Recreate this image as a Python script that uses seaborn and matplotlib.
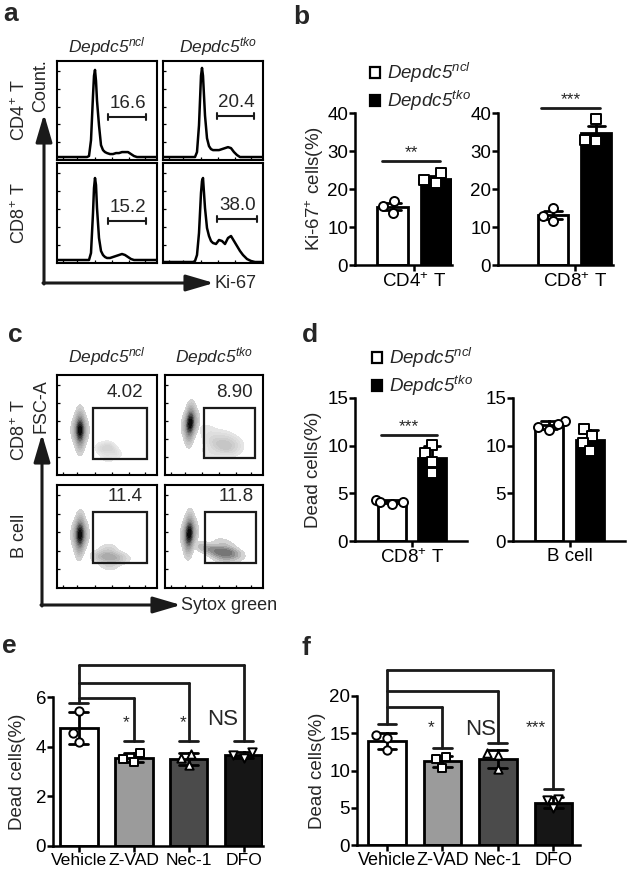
import numpy as np
import pandas as pd
import matplotlib
matplotlib.use("Agg")
import matplotlib.pyplot as plt
import seaborn as sns
from matplotlib.patches import Patch, Rectangle

sns.set_theme(style="ticks")
plt.rcParams['font.family'] = ['Liberation Sans', 'DejaVu Sans']
plt.rcParams['mathtext.fontset'] = 'custom'
plt.rcParams['mathtext.rm'] = 'Liberation Sans'
plt.rcParams['mathtext.it'] = 'Liberation Sans:italic'
plt.rcParams['mathtext.bf'] = 'Liberation Sans:bold'
plt.rcParams['axes.linewidth'] = 1.5
plt.rcParams['axes.edgecolor'] = 'black'
plt.rcParams['xtick.color'] = 'black'
plt.rcParams['ytick.color'] = 'black'

W, H = 633, 874
FS = 13.5
NCL = r'Depdc5$^{\mathit{ncl}}$'
TKO = r'Depdc5$^{\mathit{tko}}$'

# ---- a: Ki-67 histograms (x in % of the plot width, y in % of plot height)
hist_x = [0, 30, 32, 34, 36, 37, 38, 39, 40, 42, 44, 46, 48, 50, 53, 56, 59, 62, 65, 68, 71, 74, 77, 80, 84, 88, 92, 100]
hist_cd4_ncl = [3, 3, 4, 20, 65, 85, 91, 80, 60, 35, 15, 10, 8, 7, 6, 6, 7, 7, 8, 8, 8, 6, 4, 3, 3, 3, 3, 3]
hist_cd4_tko = [3, 3, 3, 8, 35, 60, 85, 93, 85, 45, 22, 14, 11, 10, 10, 10, 11, 12, 13, 12, 8, 5, 3, 3, 3, 3, 3, 3]
hist_cd8_ncl = [3, 3, 3, 10, 50, 75, 85, 78, 55, 25, 12, 8, 6, 5, 5, 6, 7, 8, 9, 8, 6, 4, 3, 3, 3, 3, 3, 3]
hist_cd8_tko = [1, 1, 2, 8, 30, 50, 70, 82, 85, 55, 35, 27, 22, 20, 19, 23, 22, 19, 25, 27, 22, 17, 12, 8, 4, 2, 1, 1]
hist_gate_labels = ['16.6', '20.4', '15.2', '38.0']
hist_gate_x0 = [51, 54, 51, 54]
hist_gate_x1 = [89, 91, 89, 94]
hist_gate_y = [43, 44, 42, 44]

# ---- c: Sytox green density plots, event clusters (x, y, weight) in % of plot
live_cd8_ncl = {'x': [23, 18, 28, 23, 23, 23, 23], 'y': [45, 45, 45, 38, 52, 30, 60],
                'w': [3, 1, 1, 1.5, 1.5, 0.6, 0.5]}
live_cd8_tko = {'x': [26, 21, 31, 25, 26, 25, 26], 'y': [52, 51, 53, 45, 59, 37, 66],
                'w': [3, 1, 1, 1.5, 1.5, 0.6, 0.4]}
live_b_ncl = {'x': [23, 18, 28, 23, 23, 22, 23], 'y': [52, 52, 52, 45, 59, 37, 67],
              'w': [3, 1, 1, 1.5, 1.5, 0.6, 0.4]}
live_b_tko = {'x': [25, 20, 30, 24, 25, 24, 25], 'y': [53, 53, 53, 46, 60, 38, 68],
              'w': [3, 1, 1, 1.5, 1.5, 0.7, 0.4]}
dead_cd8_ncl = {'x': [45, 52, 58, 50], 'y': [26, 28, 22, 18], 'w': [0.8, 1.0, 0.6, 0.5]}
dead_cd8_tko = {'x': [43, 50, 57, 64, 69, 47, 60], 'y': [45, 34, 29, 27, 32, 22, 38],
                'w': [0.4, 0.8, 0.8, 1.0, 0.8, 0.5, 0.5]}
dead_b_ncl = {'x': [42, 50, 58, 66, 52, 52], 'y': [30, 31, 29, 29, 22, 38],
              'w': [0.8, 1.2, 1.0, 0.5, 0.6, 0.6]}
dead_b_tko = {'x': [38, 46, 54, 62, 70, 58, 60, 66], 'y': [40, 38, 34, 36, 34, 28, 44, 30],
              'w': [0.6, 0.8, 1.0, 1.3, 0.8, 0.6, 0.6, 0.6]}
dead_shades = [('#ececec', '#d2d2d2'), ('#e8e8e8', '#c2c2c2'), ('#e2e2e2', '#a4a4a4'), ('#dedede', '#6a6a6a')]
dens_gate_labels = ['4.02', '8.90', '11.4', '11.8']
dens_gate_x = [(36, 90), (40, 92), (36, 90), (41, 93)]
dens_gate_y = [(16, 67), (17, 67), (24, 74), (24, 74)]

# ---- b, d: bar charts
genotypes = ['ncl', 'tko']
ki67_cd4 = [[16.8, 15.5, 13.7], [24.2, 22.3, 21.6]]
ki67_cd8 = [[15.0, 12.8, 11.6], [38.3, 33.0, 32.7]]
dead_cd8 = [[4.3, 4.1, 3.9, 4.1], [10.1, 9.2, 8.3, 7.1]]
dead_bcell = [[12.6, 12.3, 12.0, 11.6], [11.8, 11.0, 10.3, 9.4]]

# ---- e, f: treatments
treatments = ['Vehicle', 'Z-VAD', 'Nec-1', 'DFO']
dead_e = [[5.45, 4.55, 4.2], [3.75, 3.5, 3.4], [3.7, 3.55, 3.25], [3.8, 3.65, 3.55]]
dead_f = [[14.7, 14.4, 12.8], [11.8, 11.5, 10.4], [12.4, 12.1, 10.2], [6.2, 6.0, 4.9]]
e_stem, e_levels, e_drops = 5.75, [5.97, 6.55, 7.27], [4.23, 4.23, 4.23]
f_stem, f_levels, f_drops = 16.25, [18.5, 20.7, 23.5], [13.0, 13.75, 7.5]
e_marks = [('*', 0.86, 4.95), ('*', 1.9, 4.95), ('NS', 2.62, 5.1)]
f_marks = [('*', 0.8, 15.7), ('NS', 1.68, 15.5), ('***', 2.69, 15.7)]

fig = plt.figure(figsize=(W / 100, H / 100), dpi=100)
fig.patch.set_facecolor('white')

ov = fig.add_axes([0, 0, 1, 1])
ov.set_xlim(0, W)
ov.set_ylim(H, 0)
ov.axis('off')


def add_box(x0, y0, x1, y1):
    return fig.add_axes([x0 / W, 1 - y1 / H, (x1 - x0) / W, (y1 - y0) / H])


def flow_frame(ax):
    ax.set_xlim(0, 100)
    ax.set_ylim(0, 100)
    for s in ax.spines.values():
        s.set_visible(True)
        s.set_linewidth(1.5)
    ax.set_xticks([6, 20, 38, 55, 72, 88])
    ax.set_yticks([18, 36, 54, 72, 90])
    ax.set_xticklabels([])
    ax.set_yticklabels([])
    ax.tick_params(direction='in', length=2.5, width=0.9)
    ax.set_xlabel('')
    ax.set_ylabel('')


# ---------------- panel a
hist_sets = [hist_cd4_ncl, hist_cd4_tko, hist_cd8_ncl, hist_cd8_tko]
hist_boxes = [(57, 61, 157, 160), (163, 61, 263, 160), (57, 163, 157, 263), (163, 163, 263, 263)]
for i, (vals, bx) in enumerate(zip(hist_sets, hist_boxes)):
    ax = add_box(*bx)
    sns.lineplot(x=hist_x, y=vals, color='black', linewidth=1.8, ax=ax)
    y = hist_gate_y[i]
    x0, x1 = hist_gate_x0[i], hist_gate_x1[i]
    ax.plot([x0, x1], [y, y], color='k', lw=1.5)
    ax.plot([x0, x0], [y - 3, y + 3], color='k', lw=1.5)
    ax.plot([x1, x1], [y - 3, y + 3], color='k', lw=1.5)
    ax.text((x0 + x1) / 2 + 1, y + 5, hist_gate_labels[i], ha='center', va='bottom', fontsize=FS)
    flow_frame(ax)

HFS = 12.5
ov.text(107, 52, NCL, ha='center', va='baseline', fontsize=HFS, style='italic')
ov.text(218, 52, TKO, ha='center', va='baseline', fontsize=HFS, style='italic')
ov.text(20, 110, 'CD4$^{+}$ T', rotation=90, ha='center', va='center', fontsize=13)
ov.text(20, 213, 'CD8$^{+}$ T', rotation=90, ha='center', va='center', fontsize=13)
ov.text(41, 112, 'Count.', rotation=90, ha='center', va='bottom', fontsize=13)
arrow = dict(arrowstyle='-|>,head_length=1.7,head_width=0.5', lw=2.2, color='k',
             mutation_scale=10, shrinkA=0, shrinkB=0)
ov.annotate('', xy=(44, 114), xytext=(44, 284), arrowprops=arrow)
ov.annotate('', xy=(214, 283), xytext=(43, 283), arrowprops=arrow)
ov.text(215, 284, 'Ki-67', ha='left', va='center', fontsize=13)

# ---------------- panel c
live_cmap = sns.blend_palette(['#d6d6d6', '#8a8a8a', '#000000'], as_cmap=True)
live_sets = [live_cd8_ncl, live_cd8_tko, live_b_ncl, live_b_tko]
dead_sets = [dead_cd8_ncl, dead_cd8_tko, dead_b_ncl, dead_b_tko]
dens_boxes = [(57, 375, 157, 475), (165, 375, 263, 475), (57, 485, 157, 588), (165, 485, 263, 588)]
for i, bx in enumerate(dens_boxes):
    ax = add_box(*bx)
    dd, lv = dead_sets[i], live_sets[i]
    sns.kdeplot(x=dd['x'], y=dd['y'], weights=dd['w'], fill=True,
                cmap=sns.blend_palette(list(dead_shades[i]), as_cmap=True),
                levels=6, thresh=0.12, bw_method=0.8, ax=ax)
    sns.kdeplot(x=lv['x'], y=lv['y'], weights=lv['w'], fill=True, cmap=live_cmap,
                levels=14, thresh=0.06, bw_method=1.05, ax=ax)
    gx, gy = dens_gate_x[i], dens_gate_y[i]
    ax.add_patch(Rectangle((gx[0], gy[0]), gx[1] - gx[0], gy[1] - gy[0],
                           fill=False, ec='k', lw=1.6, zorder=5))
    ax.text(gx[0] + (gx[1] - gx[0]) * 0.6, gy[1] + 7, dens_gate_labels[i],
            ha='center', va='bottom', fontsize=FS)
    flow_frame(ax)

ov.text(107, 362, NCL, ha='center', va='baseline', fontsize=HFS, style='italic')
ov.text(214, 362, TKO, ha='center', va='baseline', fontsize=HFS, style='italic')
ov.text(20, 430, 'CD8$^{+}$ T', rotation=90, ha='center', va='center', fontsize=13)
ov.text(20, 536, 'B cell', rotation=90, ha='center', va='center', fontsize=13)
ov.text(41, 433, 'FSC-A', rotation=90, ha='center', va='bottom', fontsize=13)
ov.annotate('', xy=(42, 434), xytext=(42, 606), arrowprops=arrow)
ov.annotate('', xy=(181, 605), xytext=(41, 605), arrowprops=arrow)
ov.text(181, 606, 'Sytox green', ha='left', va='center', fontsize=13)


def style_bar_axes(ax, xlim, ylim, yticks):
    ax.set_xlim(*xlim)
    ax.set_ylim(*ylim)
    ax.set_yticks(yticks)
    sns.despine(ax=ax)
    ax.spines['left'].set_linewidth(1.8)
    ax.spines['bottom'].set_linewidth(1.8)
    ax.tick_params(length=4, width=1.8, labelsize=FS, pad=1)
    ax.set_xlabel('')


def genotype_bars(ax, vals, errorbar, label):
    df = pd.DataFrame({'group': np.repeat(genotypes, [len(v) for v in vals]),
                       'value': np.concatenate(vals)})
    sns.barplot(data=df, x='group', y='value', hue='group', order=genotypes,
                palette={'ncl': 'white', 'tko': 'black'}, edgecolor='black', linewidth=2,
                width=0.7, errorbar=errorbar, capsize=0.4,
                err_kws={'color': 'black', 'linewidth': 2}, legend=False, ax=ax)
    for g, m in zip(genotypes, ['o', 's']):
        sns.swarmplot(data=df[df['group'] == g], x='group', y='value', order=genotypes,
                      marker=m, size=6.5, color='white', edgecolor='black', linewidth=1.4, ax=ax)
    ax.set_xticks([0.5])
    ax.set_xticklabels([label])
    ax.set_ylabel('')


def sig_line(ax, x0, x1, y, text, dy):
    ax.plot([x0, x1], [y, y], color='k', lw=2, clip_on=False)
    ax.text((x0 + x1) / 2, y + dy, text, ha='center', va='bottom', fontsize=FS - 1, clip_on=False)


# ---------------- panel b
b1 = add_box(355, 113, 452, 265)
genotype_bars(b1, ki67_cd4, ('se', 1), 'CD4$^{+}$ T')
style_bar_axes(b1, (-0.87, 1.38), (0, 40), [0, 10, 20, 30, 40])
sig_line(b1, -0.25, 1.11, 27.3, '**', 0.3)
b1.set_ylabel('Ki-67$^{+}$ cells(%)', fontsize=FS, labelpad=1)

b2 = add_box(498, 113, 613, 265)
genotype_bars(b2, ki67_cd8, ('se', 1), 'CD8$^{+}$ T')
style_bar_axes(b2, (-1.27, 1.385), (0, 40), [0, 10, 20, 30, 40])
sig_line(b2, -0.27, 1.08, 41.3, '***', 0.3)

leg_handles = [Patch(facecolor='white', edgecolor='black', linewidth=1.6),
               Patch(facecolor='black', edgecolor='black', linewidth=1.6)]
leg_kw = dict(bbox_transform=fig.transFigure, frameon=False, handlelength=0.55, handleheight=0.55,
              handletextpad=0.35, labelspacing=0.2, borderpad=0, borderaxespad=0, loc='upper left',
              prop={'size': FS, 'style': 'italic'})
b1.legend(leg_handles, [NCL, TKO], bbox_to_anchor=(370 / W, 1 - 61 / H), **leg_kw)

# ---------------- panel d
d1 = add_box(355, 398, 467, 541)
genotype_bars(d1, dead_cd8, 'sd', 'CD8$^{+}$ T')
style_bar_axes(d1, (-0.91, 1.86), (0, 15), [0, 5, 10, 15])
sig_line(d1, -0.27, 1.13, 11.1, '***', 0.1)
d1.set_ylabel('Dead cells(%)', fontsize=FS, labelpad=4)

d2 = add_box(513, 398, 625, 541)
genotype_bars(d2, dead_bcell, 'sd', 'B cell')
style_bar_axes(d2, (-0.885, 1.86), (0, 15), [0, 5, 10, 15])

d1.legend(leg_handles, [NCL, TKO], bbox_to_anchor=(372 / W, 1 - 346 / H), **leg_kw)


# ---------------- panels e, f
def treatment_bars(ax, vals):
    df = pd.DataFrame({'treatment': np.repeat(treatments, [len(v) for v in vals]),
                       'value': np.concatenate(vals)})
    colors = dict(zip(treatments, ['white', '#9b9b9b', '#4b4b4b', '#161616']))
    sns.barplot(data=df, x='treatment', y='value', hue='treatment', order=treatments,
                palette=colors, edgecolor='black', linewidth=2, width=0.68,
                errorbar='sd', capsize=0.34, err_kws={'color': 'black', 'linewidth': 2},
                legend=False, ax=ax)
    for t, m in zip(treatments, ['o', 's', '^', 'v']):
        sns.swarmplot(data=df[df['treatment'] == t], x='treatment', y='value', order=treatments,
                      marker=m, size=6, color='white', edgecolor='black', linewidth=1.4, ax=ax)
    ax.set_ylabel('')


def brackets(ax, stem, levels, drops, marks, cap):
    kw = dict(color='k', lw=2, clip_on=False)
    ax.plot([-cap, cap], [stem, stem], **kw)
    ax.plot([0, 0], [stem, levels[-1]], **kw)
    for j, (lv, dp) in enumerate(zip(levels, drops), start=1):
        ax.plot([0, j], [lv, lv], **kw)
        ax.plot([j, j], [lv, dp], **kw)
        ax.plot([j - cap, j + cap], [dp, dp], **kw)
    for txt, x, y in marks:
        ax.text(x, y, txt, ha='center', va='center', fontsize=FS + (2.5 if txt == 'NS' else -1),
                clip_on=False)


e = add_box(53, 697, 263, 846)
treatment_bars(e, dead_e)
style_bar_axes(e, (-0.47, 3.35), (0, 6), [0, 2, 4, 6])
e.tick_params(axis='x', labelsize=12.6)
brackets(e, e_stem, e_levels, e_drops, e_marks, 0.17)
e.set_ylabel('Dead cells(%)', fontsize=FS, labelpad=7)

f = add_box(357, 696, 580, 845)
treatment_bars(f, dead_f)
style_bar_axes(f, (-0.54, 3.48), (0, 20), [0, 5, 10, 15, 20])
f.tick_params(axis='x', labelsize=13)
brackets(f, f_stem, f_levels, f_drops, f_marks, 0.17)
f.set_ylabel('Dead cells(%)', fontsize=FS, labelpad=2)

# panel letters
for letter, x, y in [('a', 3, 21), ('b', 293, 24), ('c', 8, 342), ('d', 302, 342),
                     ('e', 2, 653), ('f', 302, 655)]:
    ov.text(x, y, letter, fontsize=19, fontweight='bold', va='baseline', ha='left')

fig.savefig('out.png', dpi=100, facecolor='white')
